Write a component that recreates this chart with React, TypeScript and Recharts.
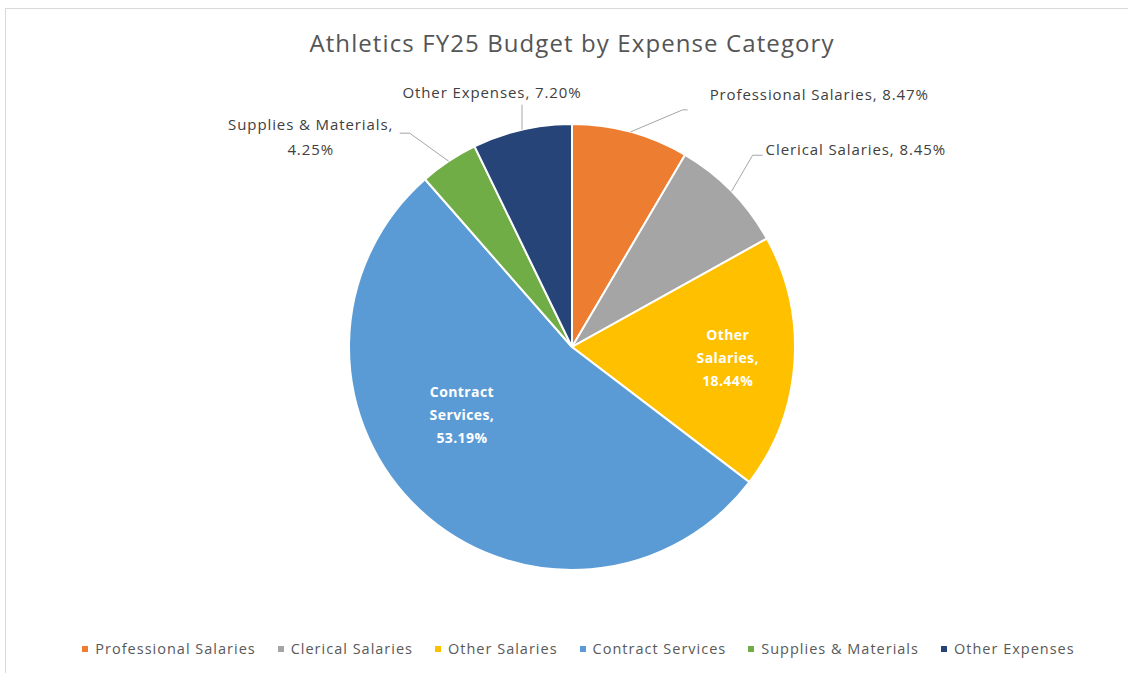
import React from 'react'
import { PieChart, Pie, Cell, Legend } from 'recharts'

const categories = [
  'Professional Salaries',
  'Clerical Salaries',
  'Other Salaries',
  'Contract Services',
  'Supplies & Materials',
  'Other Expenses',
]
const shares = [8.47, 8.45, 18.44, 53.19, 4.25, 7.2]
const colors = ['#ED7D31', '#A5A5A5', '#FFC000', '#5B9BD5', '#70AD47', '#264478']

const data = categories.map((name, i) => ({ name, value: shares[i] }))

const RADIAN = Math.PI / 180
const FONT = '"Open Sans", "Noto Sans", sans-serif'

// label placement per slice (outside labels hang off a leader line)
const outside: Record<number, { elbow: [number, number]; end: [number, number]; tx: number; ty: number; anchor: 'start' | 'middle' | 'end'; split?: boolean }> = {
  0: { elbow: [52, -22], end: [57, -22], tx: 79, ty: -37, anchor: 'start' },
  1: { elbow: [21, -36], end: [31, -36], tx: 34, ty: -42, anchor: 'start' },
  4: { elbow: [-39, -28], end: [-49, -28], tx: -138, ty: -36, anchor: 'middle', split: true },
  5: { elbow: [0, -25], end: [0, -25], tx: -30, ty: -37, anchor: 'middle' },
}
const inside: Record<number, { r: number; dx: number; dy: number }> = {
  2: { r: 0.7, dx: 0, dy: 0 },
  3: { r: 0.5, dx: -34, dy: -13 },
}

// eslint-disable-next-line @typescript-eslint/no-explicit-any
const renderLabel = (props: any) => {
  const { cx, cy, midAngle, outerRadius, index, name, value } = props
  const pct = `${Number(value).toFixed(2)}%`
  const cos = Math.cos(-midAngle * RADIAN)
  const sin = Math.sin(-midAngle * RADIAN)

  if (inside[index]) {
    const s = inside[index]
    const x = cx + outerRadius * s.r * cos + s.dx
    const y = cy + outerRadius * s.r * sin + s.dy
    const words = name.split(' ')
    const lines = [words[0], `${words.slice(1).join(' ')},`, pct]
    return (
      <text key={`l${index}`} x={x} y={y} fill="#fff" fontFamily={FONT} fontWeight={700} fontSize={14} letterSpacing={0.4} textAnchor="middle">
        {lines.map((t, k) => (
          <tspan key={k} x={x} y={y + (k - 1) * 23} dy="0.35em">{t}</tspan>
        ))}
      </text>
    )
  }

  const o = outside[index]
  const ax = cx + outerRadius * cos
  const ay = cy + outerRadius * sin
  const pts = `${ax},${ay} ${ax + o.elbow[0]},${ay + o.elbow[1]} ${ax + o.end[0]},${ay + o.end[1]}`
  const tx = ax + o.tx
  const ty = ay + o.ty
  return (
    <g key={`l${index}`}>
      <polyline points={pts} fill="none" stroke="#A6A6A6" strokeWidth={1} />
      <text x={tx} y={ty} fill="#404040" fontFamily={FONT} fontSize={15} letterSpacing={0.9} textAnchor={o.anchor}>
        {o.split ? (
          <>
            <tspan x={tx} y={ty} dy="0.35em">{`${name},`}</tspan>
            <tspan x={tx} y={ty + 25} dy="0.35em">{pct}</tspan>
          </>
        ) : (
          <tspan x={tx} y={ty} dy="0.35em">{`${name}, ${pct}`}</tspan>
        )}
      </text>
    </g>
  )
}

const renderLegend = () => (
  <div style={{ display: 'flex', justifyContent: 'center', gap: 22, fontFamily: FONT, fontSize: 14.5, letterSpacing: 1, color: '#595959' }}>
    {categories.map((c, i) => (
      <div key={c} style={{ display: 'flex', alignItems: 'center' }}>
        <span style={{ width: 6, height: 6, background: colors[i], marginRight: 7, display: 'inline-block' }} />
        <span>{c}</span>
      </div>
    ))}
  </div>
)

export default function App() {
  return (
    <div style={{ position: 'absolute', left: 0, top: 0, width: 1128, height: 673, background: '#fff', overflow: 'hidden' }}>
      <div style={{ position: 'absolute', left: 5, top: 8, right: -2, bottom: -2, borderTop: '1px solid #D9D9D9', borderLeft: '1px solid #D9D9D9' }} />
      <div style={{ position: 'absolute', left: 0, top: 26, width: 1144, textAlign: 'center', fontFamily: FONT, fontSize: 24, fontWeight: 500, letterSpacing: 1.1, color: '#555555' }}>
        Athletics FY25 Budget by Expense Category
      </div>
      <div style={{ position: 'absolute', left: 0, top: 0 }}>
        <PieChart width={1128} height={673} margin={{ top: 0, right: 0, bottom: 0, left: 0 }}>
          <Pie
            data={data}
            dataKey="value"
            nameKey="name"
            cx={572}
            cy={347}
            outerRadius={223}
            startAngle={90}
            endAngle={-270}
            stroke="#fff"
            strokeWidth={2}
            label={renderLabel}
            labelLine={false}
            isAnimationActive={false}
          >
            {data.map((d, i) => (
              <Cell key={d.name} fill={colors[i]} />
            ))}
          </Pie>
          <Legend content={renderLegend} verticalAlign="bottom" wrapperStyle={{ bottom: 15, left: 0, width: 1157 }} />
        </PieChart>
      </div>
    </div>
  )
}
